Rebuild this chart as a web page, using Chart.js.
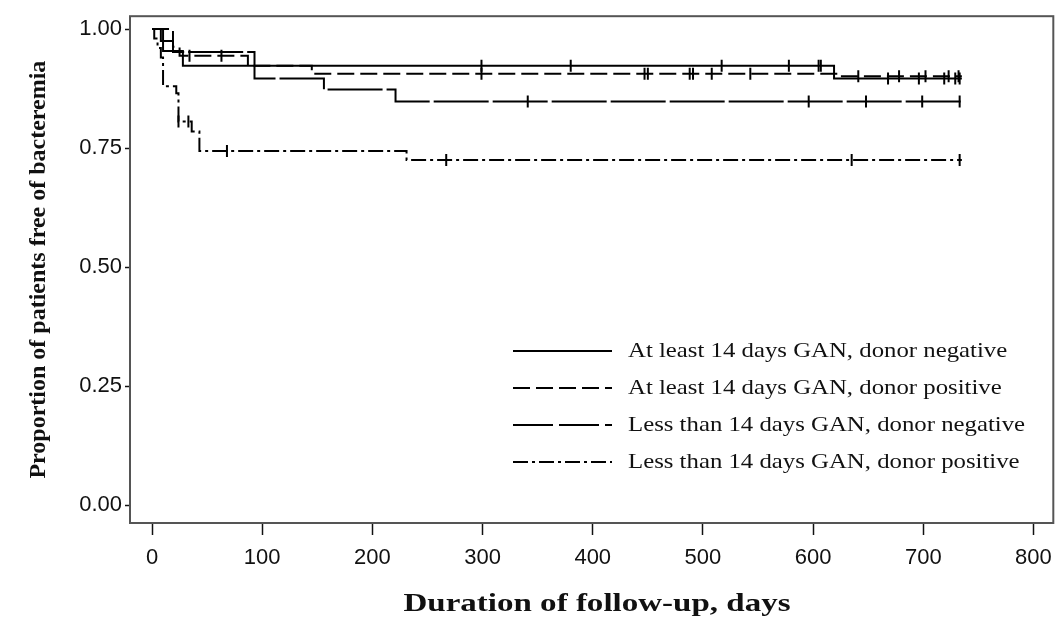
<!DOCTYPE html>
<html>
<head>
<meta charset="utf-8">
<script src="https://cdn.jsdelivr.net/npm/chart.js@4"></script>
<style>
  html, body { margin: 0; padding: 0; background: #fff; }
  #wrap { width: 1062px; height: 623px; position: relative; }
</style>
</head>
<body>
<div id="wrap"><canvas id="kmChart" width="1062" height="623"></canvas></div>
<script>
// Kaplan-Meier curves: time (days) of each step, survival after the step
const seriesLabels = [
    'At least 14 days GAN, donor negative',
    'At least 14 days GAN, donor positive',
    'Less than 14 days GAN, donor negative',
    'Less than 14 days GAN, donor positive'
];

const timesA = [0, 10, 28, 619, 735];
const survA  = [1.0, 0.954, 0.923, 0.896, 0.896];

const timesB = [0, 19, 25, 87, 145, 622, 735];
const survB  = [1.0, 0.963, 0.944, 0.923, 0.906, 0.901, 0.901];

const timesC = [0, 8, 19, 93, 156, 221, 735];
const survC  = [1.0, 0.975, 0.952, 0.896, 0.873, 0.848, 0.848];

const timesD = [0, 2, 5, 8, 10, 22, 24, 36, 43, 231, 735];
const survD  = [1.0, 0.98, 0.96, 0.94, 0.88, 0.865, 0.806, 0.785, 0.744, 0.725, 0.725];

// censored observations (days)
const censorA = [299, 380, 517, 578, 605, 607, 668, 696, 719, 729, 733];
const censorB = [34, 63, 299, 447, 450, 488, 491, 508, 543, 641, 678, 702, 723, 732];
const censorC = [341, 596, 648, 699, 733];
const censorD = [24, 33, 68, 267, 635, 733];

const xTicks = [0, 100, 200, 300, 400, 500, 600, 700, 800];
const yTicks = [0, 0.25, 0.5, 0.75, 1.0];
const xTitle = 'Duration of follow-up, days';
const yTitle = 'Proportion of patients free of bacteremia';

const dashes = [[], [17, 6], [55, 4], [15, 4, 3, 4]];
const ink = '#000';
const serif = '"Liberation Serif", "Times New Roman", serif';

function toPoints(times, surv) {
    return times.map((t, i) => ({ x: t, y: surv[i] }));
}

// a censor mark sits on its curve: take the survival value in force at that day
function censorPoints(censor, times, surv) {
    return censor.map(c => {
        let s = surv[0];
        times.forEach((t, i) => { if (t <= c) s = surv[i]; });
        return { x: c, y: s };
    });
}

const curves = [
    [timesA, survA, censorA],
    [timesB, survB, censorB],
    [timesC, survC, censorC],
    [timesD, survD, censorD]
];

const datasets = [];
curves.forEach((c, i) => {
    datasets.push({
        label: seriesLabels[i],
        data: toPoints(c[0], c[1]),
        showLine: true,
        stepped: true,
        borderColor: ink,
        borderWidth: 2,
        borderDash: dashes[i],
        pointRadius: 0,
        fill: false
    });
});
curves.forEach((c, i) => {
    datasets.push({
        label: 'censor' + i,
        data: censorPoints(c[2], c[0], c[1]),
        showLine: false,
        pointStyle: 'line',
        rotation: 90,
        pointRadius: 6,
        pointBorderWidth: 2,
        pointBorderColor: ink,
        pointBackgroundColor: ink
    });
});

// frame, legend and x title (the original's serif text is a bit wide, so stretch it)
const framePlugin = {
    id: 'frame',
    afterDraw(chart) {
        const { ctx, chartArea: a } = chart;
        ctx.save();
        ctx.strokeStyle = '#555';
        ctx.lineWidth = 2;
        ctx.strokeRect(a.left, a.top, a.right - a.left, a.bottom - a.top);

        ctx.strokeStyle = ink;
        ctx.fillStyle = '#111';
        ctx.lineWidth = 1.8;
        ctx.textBaseline = 'middle';
        seriesLabels.forEach((lab, i) => {
            const y = 351 + i * 37;
            ctx.setLineDash(i === 2 ? [40, 6] : dashes[i]);
            ctx.beginPath();
            ctx.moveTo(513, y);
            ctx.lineTo(612, y);
            ctx.stroke();
            ctx.setLineDash([]);
            ctx.save();
            ctx.translate(628, y);
            ctx.scale(1.18, 1);
            ctx.font = '21px ' + serif;
            ctx.fillText(lab, 0, 0);
            ctx.restore();
        });

        ctx.save();
        ctx.translate(597, 604);
        ctx.scale(1.27, 1);
        ctx.font = 'bold 26px ' + serif;
        ctx.textAlign = 'center';
        ctx.fillText(xTitle, 0, 0);
        ctx.restore();
        ctx.restore();
    }
};

new Chart(document.getElementById('kmChart').getContext('2d'), {
    type: 'scatter',
    data: { datasets: datasets },
    options: {
        responsive: false,
        animation: false,
        layout: { padding: { left: 0, right: 4, top: 12, bottom: 0 } },
        plugins: {
            legend: { display: false },
            tooltip: { enabled: false }
        },
        scales: {
            x: {
                type: 'linear',
                min: -20,
                max: 818,
                afterBuildTicks: s => { s.ticks = xTicks.map(v => ({ value: v })); },
                afterFit: s => { s.height = 100; },
                grid: { drawOnChartArea: false, tickLength: 12, color: '#111', tickWidth: 1.5 },
                border: { display: false },
                ticks: {
                    color: '#111',
                    padding: 10,
                    maxRotation: 0,
                    font: { family: '"Liberation Sans", Arial, sans-serif', size: 22 },
                    callback: v => String(v)
                },
                title: { display: false }
            },
            y: {
                type: 'linear',
                min: -0.0375,
                max: 1.027,
                afterBuildTicks: s => { s.ticks = yTicks.map(v => ({ value: v })); },
                afterFit: s => { s.width = 130; },
                grid: { drawOnChartArea: false, tickLength: 5, color: '#111', tickWidth: 1.5 },
                border: { display: false },
                ticks: {
                    color: '#111',
                    padding: 3,
                    font: { family: '"Liberation Sans", Arial, sans-serif', size: 22 },
                    callback: v => v.toFixed(2)
                },
                title: {
                    display: true,
                    text: yTitle,
                    color: '#111',
                    padding: { top: 24, bottom: 0 },
                    font: { family: serif, size: 24, weight: 'bold' }
                }
            }
        }
    },
    plugins: [framePlugin]
});
</script>
</body>
</html>
